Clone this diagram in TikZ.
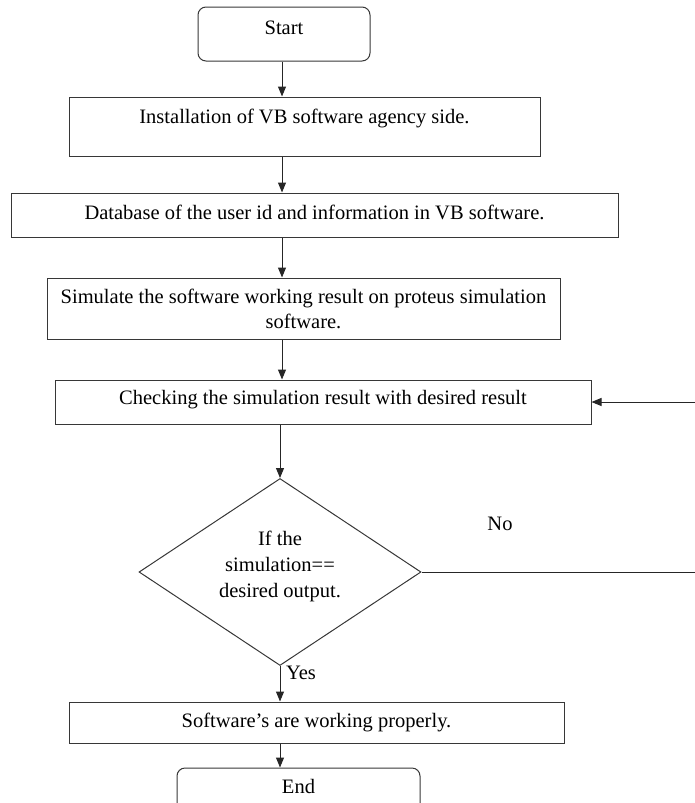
\documentclass[tikz,border=0pt]{standalone}
\usepackage{fontspec}
\setmainfont{Liberation Serif}
\usetikzlibrary{shapes.geometric,arrows.meta}
\definecolor{linegray}{RGB}{55,55,55}

\begin{document}
\begin{tikzpicture}[x=1pt,y=-1pt,
    flowbox/.style={draw=linegray,line width=1pt,inner sep=0pt,text height=14pt,font=\fontsize{20.5}{25}\selectfont},
    endbox/.style={flowbox,rounded corners=8pt},
    decbox/.style={draw=linegray,line width=1pt,diamond,aspect=1.5,inner sep=0pt,align=center,font=\fontsize{20.5}{26}\selectfont},
    flowarrow/.style={draw=black!85,line width=1pt,-{Triangle[length=10pt,width=8pt]}},
    flowtext/.style={inner sep=0pt,font=\fontsize{20.5}{25}\selectfont}]
    \useasboundingbox (0,0) rectangle (694,803);

    % Start
    \node[endbox,minimum width=172pt,minimum height=54pt,text depth=13.6pt] (start) at (284,34) {Start};

    % Steps
    \node[flowbox,minimum width=471pt,minimum height=59pt,text depth=20.6pt] (inst) at (304.5,126.5) {Installation of VB software agency side.};
    \node[flowbox,minimum width=607pt,minimum height=44pt,text depth=5.6pt] (dbase) at (314.5,215) {Database of the user id and information in VB software.};
    \node[flowbox,minimum width=513pt,minimum height=61pt,text height=,text depth=,align=center] (simul) at (303.5,308.5) {Simulate the software working result on proteus simulation\\software.};
    \node[flowbox,minimum width=536pt,minimum height=44pt,text depth=9.6pt] (check) at (323,402) {Checking the simulation result with desired result};

    % Decision
    \node[decbox,minimum width=282pt,minimum height=187pt] (test) at (280,572) {If the\\simulation==\\desired output.\\[-10pt]};
    \node[flowtext] (nolabel) at (500,524) {No};
    \node[flowtext] (yeslabel) at (301,673) {Yes};

    % Result and End
    \node[flowbox,minimum width=495pt,minimum height=41pt,text depth=4.6pt] (works) at (316.5,722.5) {Software’s are working properly.};
    \node[endbox,minimum width=243pt,minimum height=54pt,text depth=17.6pt] (finish) at (298.5,795) {End};

    % Arrows
    \coordinate (axis) at (282,0);
    \coordinate (loop) at (697,0);
    \draw[flowarrow] (axis |- start.south) -- (axis |- inst.north);
    \draw[flowarrow] (axis |- inst.south) -- (axis |- dbase.north);
    \draw[flowarrow] (axis |- dbase.south) -- (axis |- simul.north);
    \draw[flowarrow] (axis |- simul.south) -- (axis |- check.north);
    \draw[flowarrow] (test.north |- check.south) -- (test.north);
    \draw[flowarrow] (test.south) -- (test.south |- works.north);
    \draw[flowarrow] (test.south |- works.south) -- (test.south |- finish.north);
    \draw[flowarrow] (test.east) -- (test.east -| loop) |- (check.east);
\end{tikzpicture}
\end{document}
